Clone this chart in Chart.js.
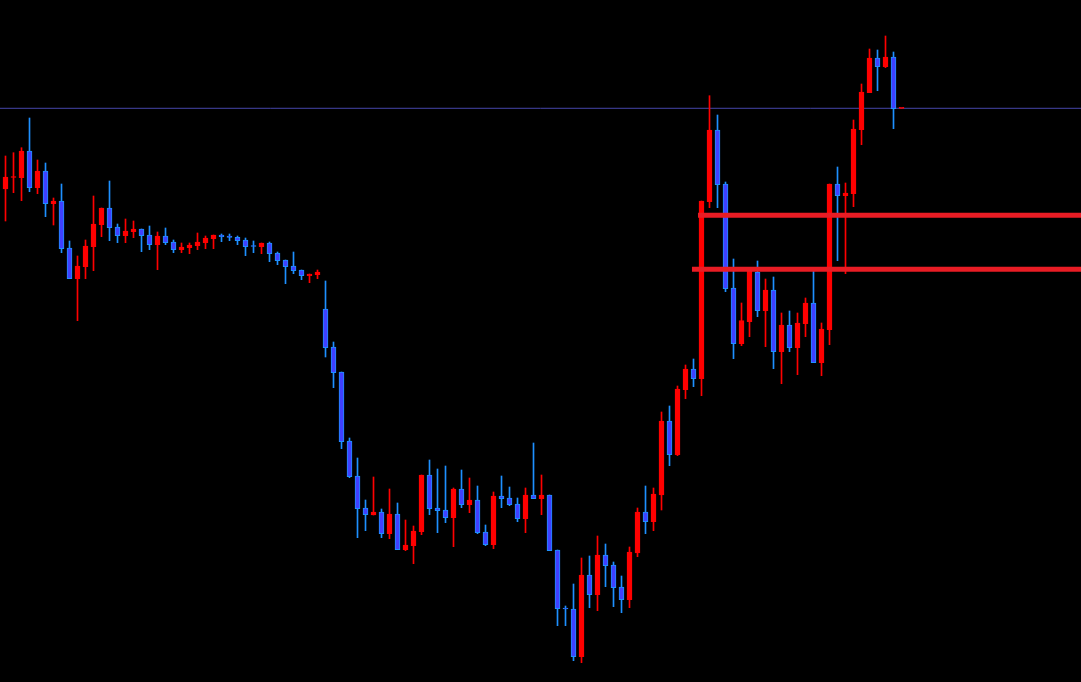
<!DOCTYPE html>
<html>
<head>
<meta charset="utf-8">
<script src="https://cdn.jsdelivr.net/npm/chart.js@4.4.0/dist/chart.umd.min.js"></script>
<style>
    html, body { margin: 0; padding: 0; background: #000; overflow: hidden; }
    canvas { display: block; }
</style>
</head>
<body>
<canvas id="myGrafic" width="1081" height="682"></canvas>
<script>
// candles (price in chart points, 0 = bottom of window)
var abertura = [
    493, 504.5, 504.3, 531, 494.3, 511, 478.3, 481, 434, 403.3,
    415.3, 435.3, 457.3, 474, 455, 446.3, 450.3, 453, 447, 437.3,
    446, 440, 432.3, 434.3, 436.3, 439.3, 443.3, 447, 446, 444.7,
    442, 436, 435.3, 439, 429, 422, 416, 412, 406.3, 407.3,
    373, 335, 310, 241, 206, 174, 167, 170, 148.3, 168,
    132.3, 136.3, 150.3, 207, 174, 172, 164.3, 193, 177.3, 182,
    150, 137.3, 186, 184, 178, 163.3, 187, 183.3, 187, 132,
    73.5, 73, 25.3, 107, 87.3, 127, 117, 95, 82.3, 129,
    170, 160.3, 187, 261, 227.3, 292.3, 313, 303.3, 480.3, 552,
    498, 394, 338.3, 360.3, 410, 371.3, 392, 330.3, 357, 334.3,
    358.3, 379, 319.3, 352.3, 498, 486.3, 488.3, 552.3, 589.3, 624,
    615.3, 625, 573.7
];
var maxima = [
    526, 529.3, 534.3, 564, 522, 519, 484, 498, 441, 426,
    442, 486, 474, 501, 458, 463, 461, 453, 456, 450,
    454, 442, 439, 439, 449, 446, 447, 448, 448, 446,
    444, 441, 439, 440, 430, 422, 430, 412, 408, 412,
    401, 340, 310, 244, 224, 182, 205, 173, 193, 179,
    162, 156, 207, 222, 213, 216, 194, 212, 204, 196,
    157, 190, 206, 195, 184, 194, 239, 207, 187, 132,
    76, 98, 124, 126, 146, 138, 120, 106, 135, 174,
    196, 194, 270, 276, 296, 317, 323, 481, 586.3, 567,
    500, 423, 379, 414, 421, 403, 405, 369, 371, 369,
    384, 411, 359, 498, 515, 499, 562, 598, 633, 632,
    646, 630, 573.7
];
var minima = [
    461, 489.3, 481.3, 490.3, 488.3, 465.3, 457, 429.3, 403.3, 361.3,
    403.3, 411.3, 445.3, 441.3, 439.3, 439.3, 444.3, 430.3, 432.3, 412.3,
    437.3, 429.3, 429.3, 428.3, 432.3, 433.3, 433.3, 440.3, 441.3, 437.3,
    426.3, 429.3, 428.3, 420.3, 417.3, 398.3, 408.3, 402.3, 399.3, 403.3,
    325, 294.3, 233.3, 204.3, 144.3, 151.3, 167, 144.3, 143.3, 132.3,
    131.3, 118.3, 147.3, 167.3, 149.3, 159.3, 135.3, 174.3, 169.3, 148.3,
    136.3, 133.3, 174.3, 176.3, 160.3, 149.3, 183.3, 167.3, 131.3, 56.3,
    56.3, 21.3, 19.3, 74.3, 71.3, 95.3, 75.3, 69.3, 74.3, 125.3,
    148.3, 151.3, 172, 216.3, 226.3, 283.3, 295.3, 286.3, 474.3, 474.3,
    390.3, 323.3, 336.3, 345.3, 365.3, 335.3, 313.3, 298.3, 330.3, 307.3,
    345.3, 319.3, 306.3, 337.3, 421.3, 408.3, 475.3, 537.3, 589.3, 591.3,
    614.3, 553.3, 573.7
];
var fechamento = [
    505, 505, 531, 494.3, 511, 478.3, 481, 433.3, 403.3, 416,
    436, 458, 474, 454.3, 446.3, 451, 453, 446.3, 437.3, 446,
    439.3, 432.3, 435, 437, 440, 444, 447, 445.3, 444.7, 441.3,
    435.3, 435.5, 439, 428.3, 421.3, 415.3, 411.3, 406.3, 408, 410,
    334.3, 309.3, 240.3, 205.3, 173.3, 167.3, 170, 148.3, 168, 132.3,
    137, 151, 207, 173.3, 171.3, 164.3, 193, 177.3, 182, 149.3,
    137.3, 186, 183.3, 177.3, 163.3, 187, 183.3, 187, 131.3, 73.3,
    73, 25.3, 107, 87.3, 127, 116.3, 94.3, 82.3, 130, 170,
    160.3, 188, 261, 227.3, 293, 313, 303.3, 481, 552, 497.3,
    393.3, 338.3, 361.3, 414, 371.3, 392, 330.3, 357, 334.3, 359,
    379, 319.3, 353, 498, 486.3, 489, 553, 590, 624, 615.3,
    625, 573.3, 573.7
];

// horizontal levels
var linhaAzul = 573.7;
var niveisVermelhos = [466.7, 412.7];
var inicioVermelhos = [86.56, 85.81];

var xMin = -0.6875;
var xMax = xMin + 1081 / 8;

var corcorpo = [], corBorda = [], corPavio = [];
var corpos = [], pavios = [];
for (var i = 0; i < abertura.length; i++) {
    var alta = fechamento[i] >= abertura[i];
    corcorpo.push(alta ? '#ff0000' : '#4040ff');
    corBorda.push(alta ? '#ff0000' : '#1e90ff');
    corPavio.push(alta ? '#ff0000' : '#1e90ff');
    corpos.push({ x: i, y: [abertura[i], fechamento[i]] });
    pavios.push({ x: i, y: [minima[i], maxima[i]] });
}

var datasets = [
    {
        type: 'line',
        data: [{ x: xMin, y: linhaAzul }, { x: xMax, y: linhaAzul }],
        borderColor: 'rgb(70, 70, 170)',
        borderWidth: 1,
        pointRadius: 0,
        order: 4
    },
    {
        type: 'bar',
        data: pavios,
        backgroundColor: corPavio,
        barThickness: 1,
        grouped: false,
        order: 3
    },
    {
        type: 'bar',
        data: corpos,
        backgroundColor: corcorpo,
        borderColor: corBorda,
        borderWidth: 1,
        borderSkipped: false,
        barThickness: 5,
        minBarLength: 1,
        grouped: false,
        order: 2
    }
];
niveisVermelhos.forEach(function (nivel, k) {
    datasets.push({
        type: 'line',
        data: [{ x: inicioVermelhos[k], y: nivel }, { x: xMax, y: nivel }],
        borderColor: 'rgb(232, 28, 36)',
        borderWidth: 5,
        pointRadius: 0,
        order: 1
    });
});

var ctx = document.getElementById('myGrafic').getContext('2d');
var grafico = new Chart(ctx, {
    type: 'bar',
    data: { datasets: datasets },
    options: {
        responsive: false,
        animation: false,
        devicePixelRatio: 1,
        layout: { padding: 0 },
        plugins: { legend: { display: false }, tooltip: { enabled: false } },
        scales: {
            x: { type: 'linear', min: xMin, max: xMax, offset: false, display: false },
            y: { min: 0, max: 682, display: false }
        }
    }
});
</script>
</body>
</html>
